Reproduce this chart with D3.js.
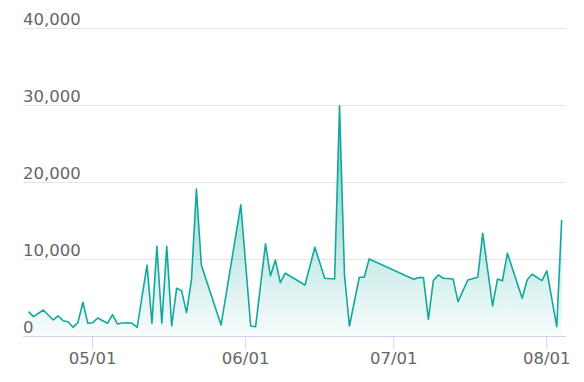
<!DOCTYPE html>
<meta charset="utf-8">
<script src="https://d3js.org/d3.v7.min.js"></script>
<style>
  body { margin: 0; background: #fff; }
  text { font-family: "DejaVu Sans", sans-serif; }
</style>
<div id="chart"></div>
<script>

// Datos diarios (fechas sin dato se unen con una recta)
var fechas = [
  "2020-04-18","2020-04-19","2020-04-21","2020-04-23","2020-04-24","2020-04-25","2020-04-26",
  "2020-04-27","2020-04-28","2020-04-29","2020-04-30","2020-05-01","2020-05-02","2020-05-04",
  "2020-05-05","2020-05-06","2020-05-07","2020-05-08","2020-05-09","2020-05-10","2020-05-12",
  "2020-05-13","2020-05-14","2020-05-15","2020-05-16","2020-05-17","2020-05-18","2020-05-19",
  "2020-05-20","2020-05-21","2020-05-22","2020-05-23","2020-05-27","2020-05-31","2020-06-02",
  "2020-06-03","2020-06-05","2020-06-06","2020-06-07","2020-06-08","2020-06-09","2020-06-13",
  "2020-06-15","2020-06-17","2020-06-19","2020-06-20","2020-06-21","2020-06-22","2020-06-24",
  "2020-06-25","2020-06-26","2020-07-05","2020-07-06","2020-07-07","2020-07-08","2020-07-09",
  "2020-07-10","2020-07-11","2020-07-13","2020-07-14","2020-07-16","2020-07-18","2020-07-19",
  "2020-07-21","2020-07-22","2020-07-23","2020-07-24","2020-07-27","2020-07-28","2020-07-29",
  "2020-07-31","2020-08-01","2020-08-03","2020-08-04"
];
var valores = [
  3160, 2510, 3380, 2080, 2600, 1990, 1860,
  1130, 1730, 4380, 1650, 1730, 2340, 1650,
  2770, 1560, 1690, 1730, 1650, 1130, 9200,
  1650, 11650, 1650, 11650, 1300, 6200, 5890,
  3030, 7280, 19070, 9230, 1430, 17030, 1300,
  1210, 11960, 7800, 9880, 6930, 8150, 6630,
  11530, 7500, 7410, 29900, 7930, 1300, 7630,
  7630, 10010, 7370, 7580, 7580, 2170, 7190,
  7930, 7500, 7410, 4460, 7280, 7630, 13350,
  3900, 7410, 7190, 10750, 4900, 7280, 8020,
  7190, 8450, 1210, 15080
];
var yTicks = [0, 10000, 20000, 30000, 40000];
var inicio = "2020-04-17", fin = "2020-08-05";

var width = 584, height = 382;
var margen = {left: 23, right: 566, top: 28, bottom: 336};

var parse = d3.utcParse("%Y-%m-%d");
// los registros llevan hora local (+3h sobre UTC)
var data = fechas.map(function(f, i) {
  return { fecha: d3.utcHour.offset(parse(f), 3), valor: valores[i] };
});

var svg = d3.select("#chart")
  .append("svg")
    .attr("width", width)
    .attr("height", height);

var x = d3.scaleUtc()
  .domain([parse(inicio), parse(fin)])
  .range([margen.left, margen.right]);

var y = d3.scaleLinear()
  .domain([0, 40000])
  .range([margen.bottom, margen.top]);

// Lineas de rejilla y etiquetas del eje Y
svg.append("g")
  .selectAll("line")
  .data(yTicks.filter(function(d) { return d > 0; }))
  .enter().append("line")
    .attr("x1", margen.left).attr("x2", margen.right)
    .attr("y1", function(d) { return Math.round(y(d)) + 0.5; })
    .attr("y2", function(d) { return Math.round(y(d)) + 0.5; })
    .attr("stroke", "#e6e6e6")
    .attr("stroke-width", 1);

svg.append("g")
  .selectAll("text")
  .data(yTicks)
  .enter().append("text")
    .attr("x", margen.left)
    .attr("y", function(d) { return y(d) - 3; })
    .style("font-size", "16.5px")
    .attr("fill", "#666666")
    .text(d3.format(","));

// Degradado del area
var grad = svg.append("defs").append("linearGradient")
  .attr("id", "relleno")
  .attr("x1", 0).attr("y1", 0).attr("x2", 0).attr("y2", 1);
grad.append("stop").attr("offset", 0).attr("stop-color", "#13a89e").attr("stop-opacity", 0.62);
grad.append("stop").attr("offset", 1).attr("stop-color", "#13a89e").attr("stop-opacity", 0.03);

svg.append("path")
  .datum(data)
  .attr("fill", "url(#relleno)")
  .attr("d", d3.area()
    .x(function(d) { return x(d.fecha); })
    .y0(y(0))
    .y1(function(d) { return y(d.valor); }));

svg.append("path")
  .datum(data)
  .attr("fill", "none")
  .attr("stroke", "#13a89e")
  .attr("stroke-width", 1.6)
  .attr("stroke-linejoin", "round")
  .attr("d", d3.line()
    .x(function(d) { return x(d.fecha); })
    .y(function(d) { return y(d.valor); }));

// Eje X
var xAxis = svg.append("g")
  .attr("transform", "translate(0," + margen.bottom + ")")
  .call(d3.axisBottom(x)
    .ticks(d3.utcMonth.every(1))
    .tickFormat(d3.utcFormat("%m/%d"))
    .tickSize(13)
    .tickPadding(3));

xAxis.select(".domain")
  .attr("d", "M" + margen.left + ",0.5H" + margen.right)
  .attr("stroke", "#ccd6eb");
xAxis.selectAll(".tick line").attr("stroke", "#ccd6eb");
xAxis.selectAll(".tick text")
  .attr("fill", "#666666")
  .style("font-size", "16.5px")
  .style("font-family", "DejaVu Sans, sans-serif");

</script>
